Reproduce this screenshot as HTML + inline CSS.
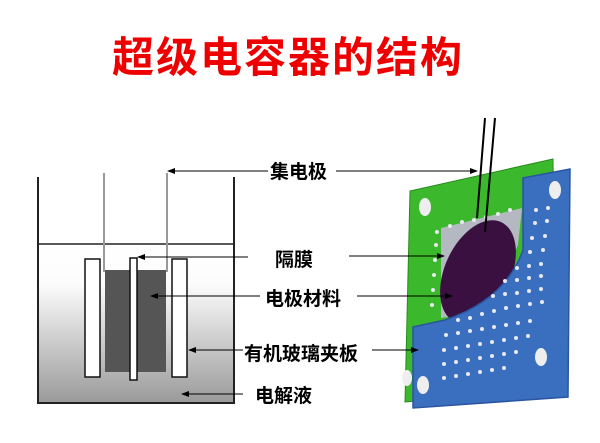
<!DOCTYPE html>
<html><head><meta charset="utf-8"><style>
body{margin:0;width:600px;height:443px;background:#fff;overflow:hidden;position:relative;font-family:"Liberation Sans","Noto Sans CJK SC",sans-serif}
.t{position:absolute;font-weight:bold;white-space:nowrap}
</style></head><body>
<svg width="600" height="443" style="position:absolute;left:0;top:0">
<defs>
<linearGradient id="w" x1="0" y1="0" x2="0" y2="1">
<stop offset="0" stop-color="#fff"/><stop offset="0.25" stop-color="#fcfcfc"/><stop offset="1" stop-color="#9a9a9a"/>
</linearGradient>
<marker id="a" markerWidth="8" markerHeight="6" refX="7" refY="3" orient="auto"><path d="M0,0 L8,3 L0,6z" fill="#000"/></marker>
</defs>
<rect x="38" y="244" width="196" height="159" fill="url(#w)"/>
<path d="M38,177 V403 H234 V177" fill="none" stroke="#222" stroke-width="2"/>
<line x1="38" y1="244" x2="234" y2="244" stroke="#222" stroke-width="1.5"/>
<line x1="104" y1="173" x2="104" y2="272" stroke="#999" stroke-width="2"/>
<line x1="167" y1="173" x2="167" y2="272" stroke="#999" stroke-width="2"/>
<rect x="105" y="270" width="61" height="102" fill="#555"/>
<rect x="85" y="259" width="15" height="118" fill="#fff" stroke="#111" stroke-width="1.5"/>
<rect x="130" y="258" width="7" height="122" fill="#fff" stroke="#111" stroke-width="1.5"/>
<rect x="172" y="259" width="15" height="118" fill="#fff" stroke="#111" stroke-width="1.5"/>
<g stroke="#000" stroke-width="1" marker-end="url(#a)">
<line x1="268" y1="171" x2="168" y2="171"/>
<line x1="248" y1="257" x2="138" y2="257"/>
<line x1="260" y1="296" x2="151" y2="296"/>
<line x1="243" y1="350" x2="189" y2="350"/>
<line x1="243" y1="394" x2="182" y2="394"/>
</g>
<polygon points="410,191 553,159 556,390 405,402" fill="#3cb82c" stroke="#2a8a1e" stroke-width="1"/>
<ellipse cx="425" cy="207" rx="6" ry="9" fill="#eee"/>
<ellipse cx="407" cy="378" rx="5" ry="8" fill="#eee"/>
<polygon points="441,228 522,208 518,245 488,310 441,318" fill="#b4b8c0"/>
<ellipse cx="478" cy="272" rx="33" ry="55" transform="rotate(25 478 272)" fill="#3a1040"/>
<path d="M523,178 L570,169 L568,397 L413,408 L413,327 L445,320 Q505,300 523,250 Z" fill="#3a6fc0" stroke="#2a55a0" stroke-width="1.5"/>
<ellipse cx="555" cy="190" rx="6" ry="9" fill="#eee"/>
<ellipse cx="541" cy="357" rx="6" ry="9" fill="#eee"/>
<ellipse cx="423" cy="385" rx="6" ry="9" fill="#eee"/>
<g fill="#e8e8f0">
<circle cx="536" cy="210" r="2"/><circle cx="548" cy="208" r="2"/><circle cx="535" cy="223" r="2"/><circle cx="547" cy="221" r="2"/>
<circle cx="532" cy="238" r="2"/><circle cx="545" cy="236" r="2"/><circle cx="530" cy="252" r="2"/><circle cx="543" cy="250" r="2"/>
<circle cx="517" cy="268" r="2"/><circle cx="529" cy="266" r="2"/><circle cx="541" cy="264" r="2"/>
<circle cx="505" cy="281" r="2"/><circle cx="517" cy="280" r="2"/><circle cx="529" cy="278" r="2"/><circle cx="541" cy="276" r="2"/>
<circle cx="493" cy="296" r="2"/><circle cx="505" cy="294" r="2"/><circle cx="517" cy="293" r="2"/><circle cx="529" cy="291" r="2"/><circle cx="541" cy="289" r="2"/>
<circle cx="458" cy="320" r="2"/><circle cx="470" cy="318" r="2"/><circle cx="482" cy="314" r="2"/><circle cx="494" cy="311" r="2"/><circle cx="506" cy="308" r="2"/><circle cx="518" cy="306" r="2"/><circle cx="530" cy="304" r="2"/><circle cx="542" cy="302" r="2"/>
<circle cx="446" cy="335" r="2"/><circle cx="458" cy="333" r="2"/><circle cx="470" cy="331" r="2"/><circle cx="482" cy="329" r="2"/><circle cx="494" cy="327" r="2"/><circle cx="506" cy="325" r="2"/><circle cx="518" cy="323" r="2"/><circle cx="530" cy="321" r="2"/>
<circle cx="444" cy="350" r="2"/><circle cx="456" cy="348" r="2"/><circle cx="468" cy="346" r="2"/><circle cx="480" cy="344" r="2"/><circle cx="492" cy="342" r="2"/><circle cx="504" cy="340" r="2"/><circle cx="516" cy="338" r="2"/><circle cx="528" cy="336" r="2"/>
<circle cx="444" cy="364" r="2"/><circle cx="456" cy="362" r="2"/><circle cx="468" cy="360" r="2"/><circle cx="480" cy="358" r="2"/><circle cx="492" cy="356" r="2"/><circle cx="504" cy="354" r="2"/><circle cx="516" cy="352" r="2"/>
<circle cx="444" cy="378" r="2"/><circle cx="456" cy="376" r="2"/><circle cx="468" cy="374" r="2"/><circle cx="480" cy="372" r="2"/><circle cx="492" cy="370" r="2"/><circle cx="504" cy="368" r="2"/>
<circle cx="437" cy="232" r="2"/><circle cx="436" cy="245" r="2"/><circle cx="435" cy="260" r="2"/><circle cx="434" cy="275" r="2"/><circle cx="433" cy="290" r="2"/><circle cx="432" cy="305" r="2"/>
<circle cx="450" cy="226" r="2"/><circle cx="462" cy="222" r="2"/><circle cx="474" cy="220" r="2"/><circle cx="486" cy="217" r="2"/><circle cx="498" cy="214" r="2"/><circle cx="510" cy="210" r="2"/>
</g>
<line x1="485" y1="118" x2="477" y2="218" stroke="#000" stroke-width="2"/>
<line x1="495" y1="118" x2="485" y2="232" stroke="#000" stroke-width="2"/>
<g stroke="#000" stroke-width="1" marker-end="url(#a)">
<line x1="336" y1="171" x2="477" y2="171"/>
<line x1="349" y1="256" x2="444" y2="256"/>
<line x1="357" y1="296" x2="452" y2="296"/>
<line x1="372" y1="350" x2="418" y2="350"/>
</g>
</svg>
<div class="t" style="left:112px;top:24px;font-size:42px;color:#ee0000;letter-spacing:2px">超级电容器的结构</div>
<div class="t" style="left:270px;top:157px;font-size:19px">集电极</div>
<div class="t" style="left:275px;top:245px;font-size:19px">隔膜</div>
<div class="t" style="left:265px;top:284px;font-size:19px">电极材料</div>
<div class="t" style="left:244px;top:339px;font-size:19px">有机玻璃夹板</div>
<div class="t" style="left:255px;top:381px;font-size:19px">电解液</div>
</body></html>
